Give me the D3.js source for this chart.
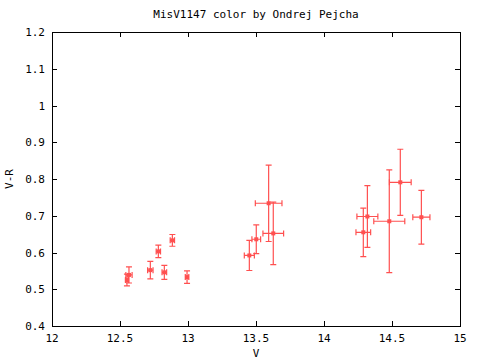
<!DOCTYPE html>
<html>
<head>
<meta charset="utf-8">
<script src="https://cdnjs.cloudflare.com/ajax/libs/d3/7.8.5/d3.min.js"></script>
<style>
body { margin: 0; background: #fff; }
.chart text {
    font: 11px 'DejaVu Sans Mono', monospace;
    fill: #000;
}
</style>
</head>
<body>
<div class="chart"></div>
<script>
// V magnitude, V-R colour, and their errors
const vMag  = [12.551, 12.566, 12.723, 12.782, 12.826, 12.885, 12.993,
               13.451, 13.502, 13.593, 13.627,
               14.289, 14.319, 14.480, 14.561, 14.716];
const vrCol = [0.525, 0.539, 0.552, 0.603, 0.546, 0.633, 0.533,
               0.592, 0.636, 0.734, 0.652,
               0.655, 0.698, 0.685, 0.791, 0.696];
const vErr  = [0.011, 0.023, 0.020, 0.016, 0.017, 0.016, 0.013,
               0.037, 0.032, 0.098, 0.076,
               0.054, 0.077, 0.114, 0.080, 0.063];
const vrErr = [0.016, 0.022, 0.024, 0.017, 0.019, 0.016, 0.017,
               0.041, 0.039, 0.104, 0.085,
               0.066, 0.084, 0.140, 0.090, 0.073];

const xTicks = [12, 12.5, 13, 13.5, 14, 14.5, 15];
const yTicks = [0.4, 0.5, 0.6, 0.7, 0.8, 0.9, 1, 1.1, 1.2];

const width = 480, height = 360;
const mLeft = 52, mRight = 460, mTop = 32, mBottom = 326;
const red = '#ff5050';

const x = d3.scaleLinear().domain([12, 15]).range([mLeft, mRight]);
const y = d3.scaleLinear().domain([0.4, 1.2]).range([mBottom, mTop]);

const svg = d3.select('.chart').append('svg')
    .attr('width', width)
    .attr('height', height);

// frame
svg.append('rect')
    .attr('x', mLeft + 0.5).attr('y', mTop + 0.5)
    .attr('width', mRight - mLeft).attr('height', mBottom - mTop)
    .attr('fill', 'none').attr('stroke', '#000');

const tickLen = 5;
const fmt = d => String(d);

// x ticks bottom + top
svg.append('g').selectAll('line')
    .data(xTicks).enter().append('line')
    .attr('x1', d => Math.round(x(d)) + 0.5).attr('x2', d => Math.round(x(d)) + 0.5)
    .attr('y1', mBottom).attr('y2', mBottom - tickLen)
    .attr('stroke', '#000');
svg.append('g').selectAll('line')
    .data(xTicks).enter().append('line')
    .attr('x1', d => Math.round(x(d)) + 0.5).attr('x2', d => Math.round(x(d)) + 0.5)
    .attr('y1', mTop).attr('y2', mTop + tickLen)
    .attr('stroke', '#000');
svg.append('g').selectAll('text')
    .data(xTicks).enter().append('text')
    .attr('x', d => x(d)).attr('y', 342)
    .attr('text-anchor', 'middle')
    .text(fmt);

// y ticks left + right
svg.append('g').selectAll('line')
    .data(yTicks).enter().append('line')
    .attr('x1', mLeft).attr('x2', mLeft + tickLen)
    .attr('y1', d => Math.round(y(d)) + 0.5).attr('y2', d => Math.round(y(d)) + 0.5)
    .attr('stroke', '#000');
svg.append('g').selectAll('line')
    .data(yTicks).enter().append('line')
    .attr('x1', mRight).attr('x2', mRight - tickLen)
    .attr('y1', d => Math.round(y(d)) + 0.5).attr('y2', d => Math.round(y(d)) + 0.5)
    .attr('stroke', '#000');
svg.append('g').selectAll('text')
    .data(yTicks).enter().append('text')
    .attr('x', 45).attr('y', d => y(d) + 4)
    .attr('text-anchor', 'end')
    .text(fmt);

// labels
svg.append('text').attr('x', 256).attr('y', 18).attr('text-anchor', 'middle')
    .text('MisV1147 color by Ondrej Pejcha');
svg.append('text').attr('x', 256).attr('y', 357).attr('text-anchor', 'middle')
    .text('V');
svg.append('text')
    .attr('transform', 'translate(13,179) rotate(-90)')
    .attr('text-anchor', 'middle')
    .text('V-R');

// error bars
const pts = vMag.map((v, i) => ({v: v, c: vrCol[i], ev: vErr[i], ec: vrErr[i]}));
const cap = 3;
const bars = svg.append('g').attr('stroke', red).attr('stroke-width', 1.2).attr('fill', 'none');
pts.forEach(d => {
    const cx = x(d.v), cy = y(d.c);
    const x0 = x(d.v - d.ev), x1 = x(d.v + d.ev);
    const y0 = y(d.c - d.ec), y1 = y(d.c + d.ec);
    const p = d3.path();
    // vertical
    p.moveTo(cx, y0); p.lineTo(cx, y1);
    p.moveTo(cx - cap, y0); p.lineTo(cx + cap, y0);
    p.moveTo(cx - cap, y1); p.lineTo(cx + cap, y1);
    // horizontal
    p.moveTo(x0, cy); p.lineTo(x1, cy);
    p.moveTo(x0, cy - cap); p.lineTo(x0, cy + cap);
    p.moveTo(x1, cy - cap); p.lineTo(x1, cy + cap);
    bars.append('path').attr('d', p.toString());
});

// point markers
svg.append('g').selectAll('rect')
    .data(pts).enter().append('rect')
    .attr('x', d => x(d.v) - 2).attr('y', d => y(d.c) - 2)
    .attr('width', 4).attr('height', 4)
    .attr('fill', red);
</script>
</body>
</html>
